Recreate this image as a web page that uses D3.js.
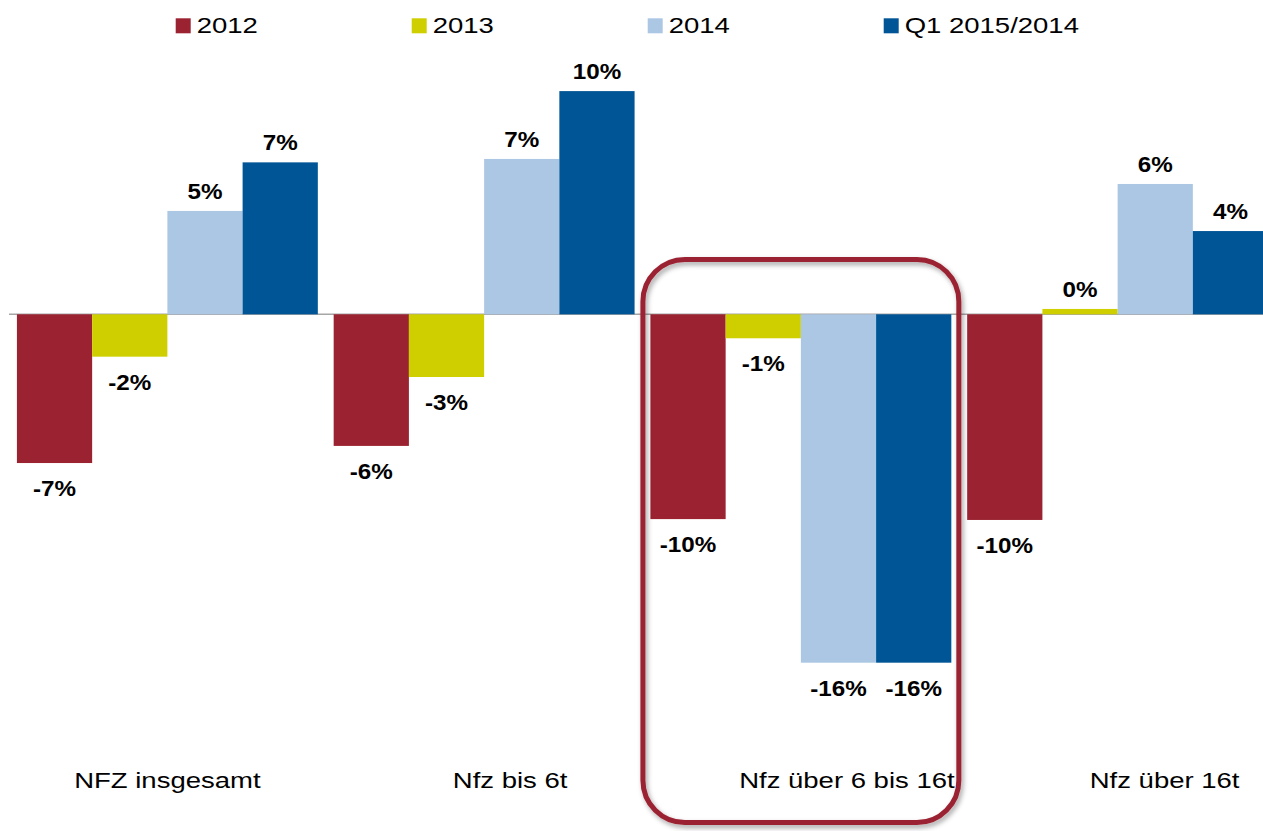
<!DOCTYPE html>
<html>
<head>
<meta charset="utf-8">
<script src="https://cdn.jsdelivr.net/npm/d3@7"></script>
<style>
  body { margin: 0; background: #fff; }
  svg { display: block; font-family: Arial, "Liberation Sans", sans-serif; }
</style>
</head>
<body>
<div id="chart"></div>
<script>
const categories = ["NFZ insgesamt", "Nfz bis 6t", "Nfz über 6 bis 16t", "Nfz über 16t"]
const seriesNames = ["2012", "2013", "2014", "Q1 2015/2014"]
const colors = ["#9b2230", "#cfcf00", "#abc7e4", "#005596"]
// values in percent, one list per series
const v2012 = [-6.95, -6.15, -9.57, -9.61]
const v2013 = [-1.98, -2.93, -1.12, 0.25]
const v2014 = [4.83, 7.26, -16.28, 6.09]
const vQ1 = [7.10, 10.43, -16.28, 3.89]
const series = [v2012, v2013, v2014, vQ1]

// the category labels were hand placed in the original, not centered
const labelNudge = [0, 26, 46, 47]
const highlighted = "Nfz über 6 bis 16t"

const W = 1263, H = 831
const svg = d3.select("#chart")
              .append("svg")
              .attr("width", W)
              .attr("height", H)

// the source picture was stretched sideways, so text gets scaled too
const stretch = 1.25

const x0 = d3.scaleBand()
             .domain(categories)
             .range([9, 1276])
             .paddingInner(0.05)
             .paddingOuter(0.025)
const x1 = d3.scaleBand()
             .domain(seriesNames)
             .range([0, x0.bandwidth()])
const y = d3.scaleLinear()
            .domain([-16, 10])
            .range([314.3 + 16 * 21.4, 314.3 - 10 * 21.4])

const rows = []
categories.forEach((c, i) => {
  seriesNames.forEach((s, j) => rows.push({ cat: c, name: s, value: series[j][i], color: colors[j], idx: i }))
})

// zero line
svg.append("line")
   .attr("x1", 9)
   .attr("x2", W)
   .attr("y1", y(0))
   .attr("y2", y(0))
   .attr("stroke", "#a6a6a6")
   .attr("stroke-width", 1.5)

svg.selectAll("rect.bar")
   .data(rows)
   .enter()
   .append("rect")
   .attr("class", "bar")
   .attr("x", d => x0(d.cat) + x1(d.name))
   .attr("y", d => y(Math.max(0, d.value)))
   .attr("width", x1.bandwidth())
   .attr("height", d => Math.abs(y(d.value) - y(0)))
   .attr("fill", d => d.color)

// plain hyphen like the original, d3.format would give a unicode minus
const fmt = v => Math.round(v) + "%"
svg.selectAll("text.val")
   .data(rows)
   .enter()
   .append("text")
   .attr("class", "val")
   .attr("text-anchor", "middle")
   .attr("font-size", 22)
   .attr("font-weight", "bold")
   .attr("fill", "#000")
   .attr("transform", d => {
     const cx = x0(d.cat) + x1(d.name) + x1.bandwidth() / 2
     const cy = d.value >= 0 ? y(d.value) - 12 : y(d.value) + 33
     return `translate(${cx},${cy}) scale(1.1,1)`
   })
   .text(d => fmt(d.value))

svg.selectAll("text.cat")
   .data(categories)
   .enter()
   .append("text")
   .attr("class", "cat")
   .attr("text-anchor", "middle")
   .attr("font-size", 22)
   .attr("fill", "#000")
   .attr("transform", (d, i) => `translate(${x0(d) + x0.bandwidth() / 2 + labelNudge[i]},788) scale(${stretch},1)`)
   .text(d => d)

// legend
const legend = svg.selectAll("g.leg")
                  .data(seriesNames)
                  .enter()
                  .append("g")
                  .attr("class", "leg")
                  .attr("transform", (d, i) => `translate(${175.7 + i * 236},0)`)
legend.append("rect")
      .attr("y", 18.3)
      .attr("width", 15)
      .attr("height", 15)
      .attr("fill", (d, i) => colors[i])
legend.append("text")
      .attr("font-size", 22)
      .attr("fill", "#000")
      .attr("transform", `translate(21,33.3) scale(${stretch},1)`)
      .text(d => d)

// rounded highlight box with soft shadow
const defs = svg.append("defs")
const f = defs.append("filter")
              .attr("id", "shadow")
              .attr("x", "-10%").attr("y", "-10%")
              .attr("width", "120%").attr("height", "120%")
f.append("feDropShadow")
 .attr("dx", 2)
 .attr("dy", 3)
 .attr("stdDeviation", 2.5)
 .attr("flood-color", "#000")
 .attr("flood-opacity", 0.35)

svg.append("rect")
   .attr("x", x0(highlighted) - 7.5)
   .attr("y", 259.5)
   .attr("width", x0.bandwidth() + 15)
   .attr("height", 563)
   .attr("rx", 42)
   .attr("fill", "none")
   .attr("stroke", "#9b2230")
   .attr("stroke-width", 5)
   .attr("filter", "url(#shadow)")
</script>
</body>
</html>
